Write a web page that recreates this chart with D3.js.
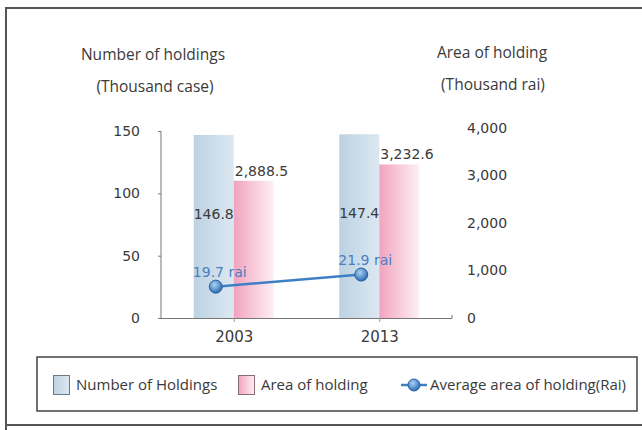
<!DOCTYPE html>
<html>
<head>
<meta charset="utf-8">
<script src="https://cdn.jsdelivr.net/npm/d3@7"></script>
<style>
  body { margin: 0; background: #fff; }
  text { fill: #3a3a3a; }
</style>
</head>
<body>
<script>
// chart data
var years = ["2003", "2013"];
var holdings = [146.8, 147.4];          // thousand case
var area = [2888.5, 3232.6];            // thousand rai
var avgArea = [19.7, 21.9];             // rai
var leftTicks = [0, 50, 100, 150];
var rightTicks = [0, 1000, 2000, 3000, 4000];

window.onload = drawChart();

function drawChart(){
    var width = 642,
        height = 430;

    var svg = d3.select("body")
        .append("svg")
        .attr("width", width)
        .attr("height", height);

    var defs = svg.append("defs");

    //bar gradients
    var gBlue = defs.append("linearGradient").attr("id", "gBlue");
    gBlue.append("stop").attr("offset", "0%").attr("stop-color", "#bcd2e2");
    gBlue.append("stop").attr("offset", "100%").attr("stop-color", "#dce8f1");
    var gPink = defs.append("linearGradient").attr("id", "gPink");
    gPink.append("stop").attr("offset", "0%").attr("stop-color", "#f2a3bf");
    gPink.append("stop").attr("offset", "100%").attr("stop-color", "#fdf0f4");
    var gDot = defs.append("radialGradient").attr("id", "gDot")
        .attr("cx", "40%").attr("cy", "35%").attr("r", "65%");
    gDot.append("stop").attr("offset", "0%").attr("stop-color", "#a9d2f5");
    gDot.append("stop").attr("offset", "100%").attr("stop-color", "#2b6cb3");

    //outer frame
    svg.append("path")
        .attr("d", "M6,430 L6,8 L660,8 M6,425 L660,425")
        .attr("fill", "none")
        .attr("stroke", "#555")
        .attr("stroke-width", 2);

    //scales
    var x = d3.scalePoint().domain(years).range([161, 452]).padding(0.5);
    var barW = x.step() * 0.275;
    var yL = d3.scaleLinear().domain([0, 150]).range([318, 131]);
    var yR = d3.scaleLinear().domain([0, 4000]).range([318, 128]);
    var yA = d3.scaleLinear().domain([14, 48]).range([318, 131]);

    //bars
    svg.selectAll(".barBlue")
        .data(holdings)
        .enter()
        .append("rect")
        .attr("class", "barBlue")
        .attr("x", function(d, i){ return x(years[i]) - barW; })
        .attr("y", function(d){ return yL(d); })
        .attr("width", barW)
        .attr("height", function(d){ return yL(0) - yL(d); })
        .attr("fill", "url(#gBlue)");

    svg.selectAll(".barPink")
        .data(area)
        .enter()
        .append("rect")
        .attr("class", "barPink")
        .attr("x", function(d, i){ return x(years[i]); })
        .attr("y", function(d){ return yR(d); })
        .attr("width", barW)
        .attr("height", function(d){ return yR(0) - yR(d); })
        .attr("fill", "url(#gPink)");

    //left axis
    var axL = svg.append("g")
        .attr("transform", "translate(161,0)")
        .call(d3.axisLeft(yL).tickValues(leftTicks).tickSize(3).tickPadding(18));
    axL.select(".domain").attr("stroke", "#777").attr("d", "M-3,131.5H0V318");
    axL.selectAll("line").attr("stroke", "#777");
    axL.selectAll("text")
        .style("font-family", "DejaVu Sans")
        .style("font-size", "14px")
        .attr("fill", "#3a3a3a");

    //right axis (labels only)
    var axR = svg.append("g")
        .attr("transform", "translate(452,0)")
        .call(d3.axisRight(yR).tickValues(rightTicks).tickSize(0).tickPadding(15)
            .tickFormat(d3.format(",")));
    axR.select(".domain").remove();
    axR.selectAll("text")
        .style("font-family", "DejaVu Sans")
        .style("font-size", "14px")
        .attr("fill", "#3a3a3a");

    //x axis
    var axX = svg.append("g")
        .attr("transform", "translate(0,318)")
        .call(d3.axisBottom(x).tickSize(4).tickPadding(9));
    axX.select(".domain").attr("stroke", "#777").attr("d", "M161,0.5H452V-3");
    axX.selectAll("line").attr("stroke", "#999");
    axX.selectAll("text")
        .style("font-family", "DejaVu Sans")
        .style("font-size", "15px")
        .attr("fill", "#3a3a3a");

    //value labels
    svg.selectAll(".lblBlue")
        .data(holdings)
        .enter()
        .append("text")
        .attr("x", function(d, i){ return x(years[i]) - barW / 2; })
        .attr("y", function(d){ return yL(d) + 84; })
        .attr("text-anchor", "middle")
        .style("font-family", "DejaVu Sans")
        .style("font-size", "14px")
        .text(function(d){ return d3.format(".1f")(d); });

    svg.selectAll(".lblPink")
        .data(area)
        .enter()
        .append("text")
        .attr("x", function(d, i){ return x(years[i]) + 1; })
        .attr("y", function(d){ return yR(d) - 5; })
        .style("font-family", "DejaVu Sans")
        .style("font-size", "14px")
        .text(function(d){ return d3.format(",.1f")(d); });

    //average line
    var line = d3.line()
        .x(function(d, i){ return x(years[i]) - barW / 2 + 2; })
        .y(function(d){ return yA(d); });

    svg.append("path")
        .datum(avgArea)
        .attr("d", line)
        .attr("fill", "none")
        .attr("stroke", "#3f7fc6")
        .attr("stroke-width", 2.5);

    svg.selectAll(".dot")
        .data(avgArea)
        .enter()
        .append("circle")
        .attr("cx", function(d, i){ return x(years[i]) - barW / 2 + 2; })
        .attr("cy", function(d){ return yA(d); })
        .attr("r", 6.5)
        .attr("fill", "url(#gDot)")
        .attr("stroke", "#2a5f9e")
        .attr("stroke-width", 1);

    svg.selectAll(".lblAvg")
        .data(avgArea)
        .enter()
        .append("text")
        .attr("x", function(d, i){ return x(years[i]) - barW / 2 + 6; })
        .attr("y", function(d){ return yA(d) - 10; })
        .attr("text-anchor", "middle")
        .style("font-family", "DejaVu Sans")
        .style("font-size", "14px")
        .style("fill", "#4a7fc2")
        .text(function(d){ return d + " rai"; });

    //axis titles
    var titles = svg.append("g")
        .style("font-family", "Open Sans")
        .style("font-size", "15.5px");
    titles.append("text").attr("x", 153).attr("y", 60).attr("text-anchor", "middle").text("Number of holdings");
    titles.append("text").attr("x", 155).attr("y", 92).attr("text-anchor", "middle").text("(Thousand case)");
    titles.append("text").attr("x", 492).attr("y", 58).attr("text-anchor", "middle").text("Area of holding");
    titles.append("text").attr("x", 493).attr("y", 90).attr("text-anchor", "middle").text("(Thousand rai)");

    //legend
    var legend = svg.append("g")
        .style("font-family", "Open Sans")
        .style("font-size", "15px");
    legend.append("rect")
        .attr("x", 37).attr("y", 357)
        .attr("width", 600).attr("height", 54)
        .attr("fill", "none")
        .attr("stroke", "#444")
        .attr("stroke-width", 1.5);

    legend.append("rect")
        .attr("x", 53.5).attr("y", 375.5).attr("width", 16).attr("height", 19)
        .attr("fill", "url(#gBlue)").attr("stroke", "#6a7c8a");
    legend.append("text").attr("x", 76).attr("y", 390).text("Number of Holdings");

    legend.append("rect")
        .attr("x", 238.5).attr("y", 375.5).attr("width", 16).attr("height", 19)
        .attr("fill", "url(#gPink)").attr("stroke", "#8a6a76");
    legend.append("text").attr("x", 261).attr("y", 390).text("Area of holding");

    legend.append("line")
        .attr("x1", 401).attr("x2", 427).attr("y1", 385).attr("y2", 385)
        .attr("stroke", "#3f7fc6").attr("stroke-width", 2.5);
    legend.append("circle")
        .attr("cx", 414).attr("cy", 385).attr("r", 6)
        .attr("fill", "url(#gDot)").attr("stroke", "#2a5f9e");
    legend.append("text").attr("x", 430).attr("y", 390).text("Average area of holding(Rai)");
};
</script>
</body>
</html>
